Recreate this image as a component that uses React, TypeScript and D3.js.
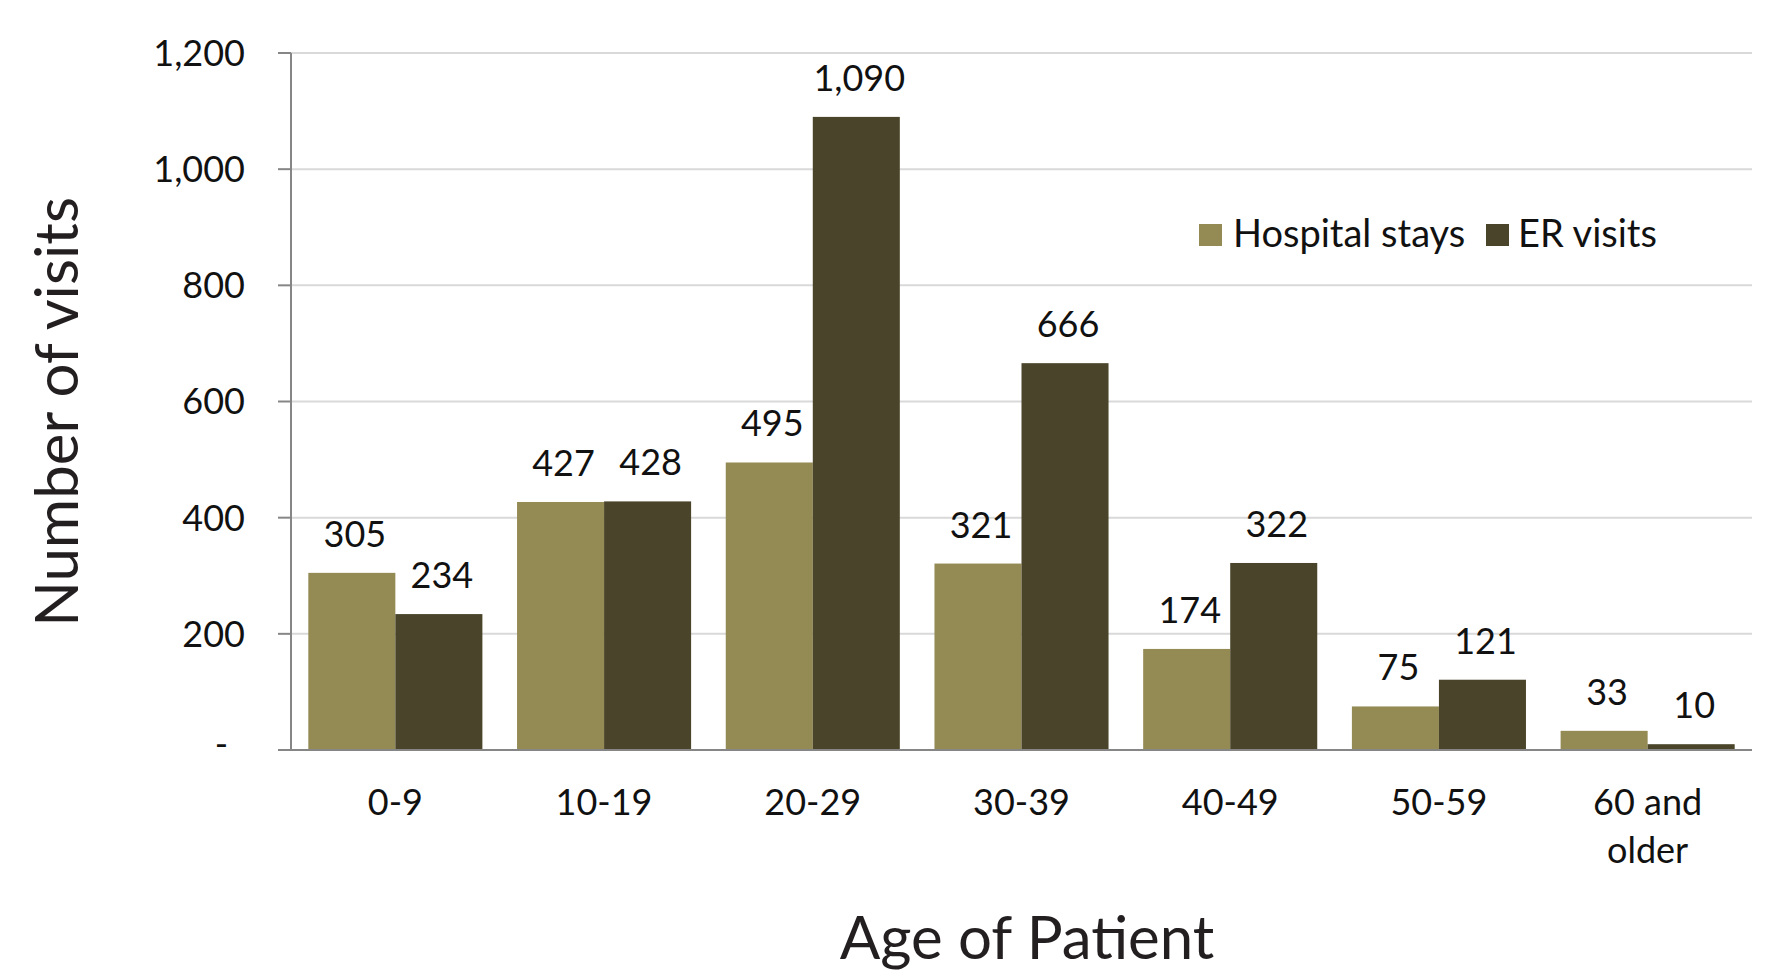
import React from "react";
import * as d3 from "d3";

const categories = ["0-9", "10-19", "20-29", "30-39", "40-49", "50-59", "60 and older"];
const categoryLines = [["0-9"], ["10-19"], ["20-29"], ["30-39"], ["40-49"], ["50-59"], ["60 and", "older"]];
const seriesNames = ["Hospital stays", "ER visits"];
const hospitalStays = [305, 427, 495, 321, 174, 75, 33];
const erVisits = [234, 428, 1090, 666, 322, 121, 10];
const yTicks = [0, 200, 400, 600, 800, 1000, 1200];
const colors = ["#948a54", "#4a452a"];

const W = 1770;
const H = 974;
const left = 291;
const right = 1752;
const top = 53;
const bottom = 750;
const FONT = "Lato, 'Open Sans', sans-serif";

export default function App() {
  const x = d3.scaleBand<string>().domain(categories).range([left, right]).paddingInner(0.166).paddingOuter(0.083);
  const x1 = d3.scaleBand<string>().domain(seriesNames).range([0, x.bandwidth()]).padding(0);
  const y = d3.scaleLinear().domain([0, 1200]).range([bottom, top]);
  const fmt = d3.format(",");
  const series = [hospitalStays, erVisits];

  return (
    <svg width={W} height={H} style={{ position: "absolute", left: 0, top: 0, background: "#fff" }} fontFamily={FONT}>
      <rect x={0} y={0} width={W} height={H} fill="#fff" />
      {/* gridlines */}
      {yTicks.filter((t) => t > 0).map((t) => (
        <line key={"g" + t} x1={left} x2={right} y1={y(t)} y2={y(t)} stroke="#d9d9d9" strokeWidth={2} />
      ))}
      {/* bars */}
      {categories.map((c, i) => (
        <g key={c}>
          {series.map((s, j) => (
            <rect
              key={j}
              x={(x(c) as number) + (x1(seriesNames[j]) as number)}
              y={y(s[i])}
              width={x1.bandwidth()}
              height={bottom - y(s[i])}
              fill={colors[j]}
            />
          ))}
          {series.map((s, j) => (
            <text
              key={"l" + j}
              x={(x(c) as number) + (x1(seriesNames[j]) as number) + x1.bandwidth() / 2 + 3}
              y={y(s[i]) - 26}
              textAnchor="middle"
              fontSize={36}
              fill="#111"
            >
              {fmt(s[i])}
            </text>
          ))}
        </g>
      ))}
      {/* y axis */}
      <line x1={left} x2={left} y1={top} y2={bottom} stroke="#868686" strokeWidth={2} />
      {yTicks.map((t) => (
        <g key={"t" + t}>
          <line x1={left - 13} x2={left} y1={y(t)} y2={y(t)} stroke="#868686" strokeWidth={2} />
          <text
            x={t === 0 ? 228 : 245}
            y={y(t)}
            dy={t === 0 ? "0.2em" : "0.36em"}
            textAnchor="end"
            fontSize={36}
            fill="#111"
          >
            {t === 0 ? "-" : fmt(t)}
          </text>
        </g>
      ))}
      {/* x axis baseline */}
      <line x1={left - 13} x2={right} y1={bottom} y2={bottom} stroke="#868686" strokeWidth={2} />
      {categories.map((c, i) => (
        <text key={"c" + c} x={(x(c) as number) + x.bandwidth() / 2} y={815} textAnchor="middle" fontSize={36} fill="#111">
          {categoryLines[i].map((ln, k) => (
            <tspan key={k} x={(x(c) as number) + x.bandwidth() / 2} dy={k === 0 ? 0 : 48}>
              {ln}
            </tspan>
          ))}
        </text>
      ))}
      {/* axis titles */}
      <text transform="translate(78,412) rotate(-90)" textAnchor="middle" fontSize={60} fill="#231f20">
        Number of visits
      </text>
      <text x={1027} y={959} textAnchor="middle" fontSize={60} fill="#231f20">
        Age of Patient
      </text>
      {/* legend */}
      <rect x={1199} y={224} width={23} height={22} fill={colors[0]} />
      <text x={1233} y={247} fontSize={38} fill="#111">Hospital stays</text>
      <rect x={1486} y={224} width={23} height={22} fill={colors[1]} />
      <text x={1518} y={247} fontSize={38} fill="#111">ER visits</text>
    </svg>
  );
}
